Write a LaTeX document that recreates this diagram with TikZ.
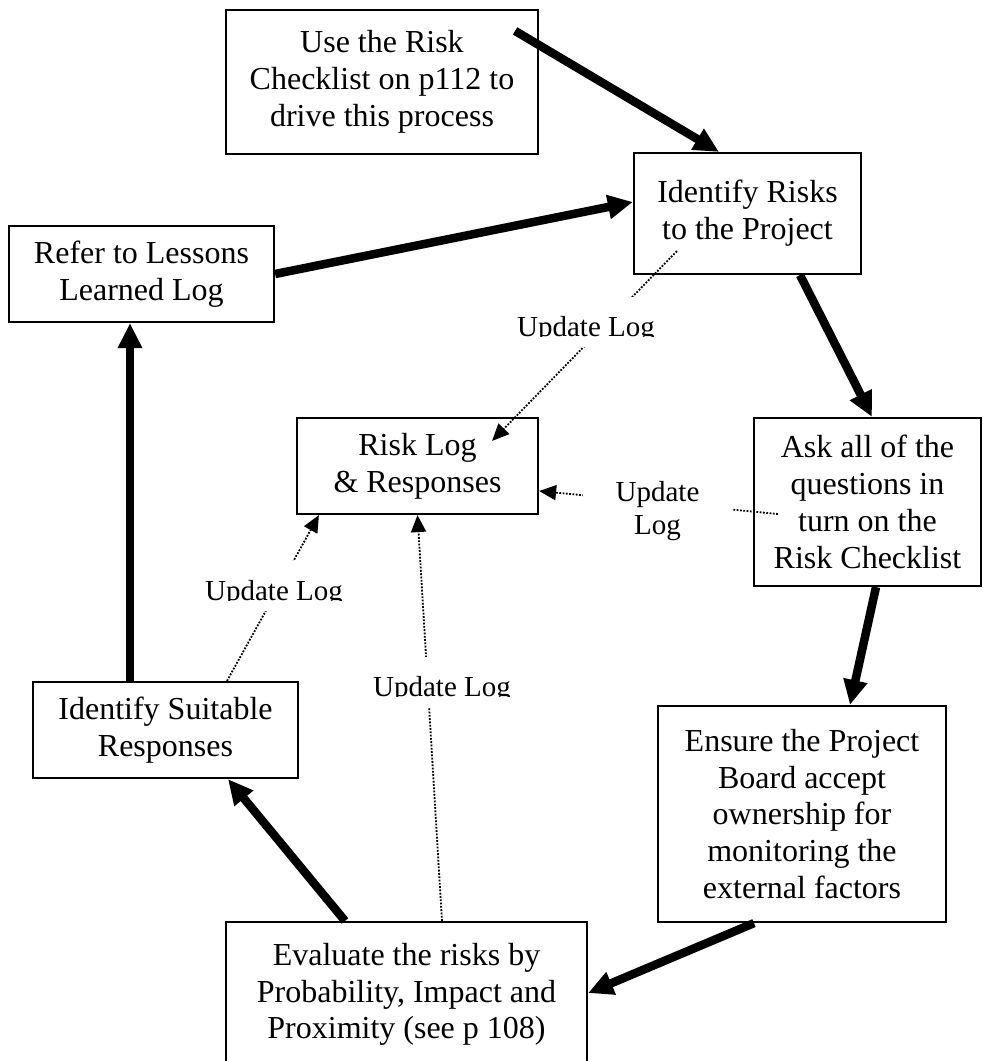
\documentclass[tikz,border=0pt]{standalone}
\usepackage{fontspec}
\setmainfont{Liberation Serif}
\usetikzlibrary{arrows.meta,calc}
\begin{document}
\begin{tikzpicture}[x=1pt,y=-1pt,
  box/.style={draw, line width=2.2pt, fill=white, rectangle, inner sep=0pt,
    align=center, font=\fontsize{32}{36.8}\selectfont},
  flow/.style={line width=8.5pt, -{Triangle[length=25pt,width=23pt]}},
  upd/.style={line width=1.8pt, dash pattern=on 1.8pt off 1.5pt,
    -{Triangle[length=17pt,width=15pt]}},
  lbl/.style={fill=white, inner sep=0pt, text height=39pt, text depth=11pt,
    font=\fontsize{29}{33}\selectfont},
]
\useasboundingbox (0,0) rectangle (983,1061);
\clip (0,0) rectangle (983,1061);
\fill[white] (0,0) rectangle (983,1061);

% process steps
\node[box, minimum width=312pt, minimum height=144pt] (b1) at (382,82)
  {Use the Risk\\Checklist on p112 to\\drive this process};
\node[box, minimum width=227pt, minimum height=121pt] (b2) at (747.5,213.5)
  {Identify Risks\\to the Project};
\node[box, minimum width=265pt, minimum height=96pt] (b3) at (141.5,274)
  {Refer to Lessons\\Learned Log};
\node[box, minimum width=241pt, minimum height=96pt] (b4) at (417.5,466)
  {Risk Log\\\& Responses};
\node[box, minimum width=227pt, minimum height=168pt] (b5) at (867.5,502)
  {Ask all of the\\questions in\\turn on the\\Risk Checklist};
\node[box, minimum width=265pt, minimum height=96pt] (b6) at (165.5,730)
  {Identify Suitable\\Responses};
\node[box, minimum width=288pt, minimum height=216pt] (b7) at (802,814)
  {Ensure the Project\\Board accept\\ownership for\\monitoring the\\external factors};
\node[box, minimum width=361pt, minimum height=145pt] (b8) at (406.5,994.5)
  {Evaluate the risks by\\Probability, Impact and\\Proximity (see p 108)};

% main cycle
\draw[flow] ($(b1.north east)+(-24,22)$) -- ($(b2.north)+(-28.5,0)$);
\draw[flow] (b3.east) -- ($(b2.west)+(0,-11.5)$);
\draw[flow] ($(b2.south)+(52.5,0)$) -- ($(b5.north)+(4.5,0)$);
\draw[flow] ($(b5.south)+(8.5,0)$) -- ($(b7.north)+(48,0)$);
\draw[flow] ($(b7.south)+(-48,0)$) -- ($(b8.east)+(0,-1.5)$);
\draw[flow] ($(b8.north)+(-61.5,0)$) -- ($(b6.south)+(62.5,0)$);
\draw[flow] ($(b6.north)+(-35.5,0)$) -- ($(b3.south)+(-11.5,0)$);

% log updates
\draw[upd] ($(b2.south west)+(44,-24)$) -- ($(b4.north east)+(-47,24)$);
\draw[upd] ($(b5.west)+(25,12)$) -- ($(b4.east)+(0,25)$);
\draw[upd] ($(b6.north)+(61.5,0)$) -- ($(b4.south west)+(23,0)$);
\draw[upd] ($(b8.north)+(35.5,0)$) -- (b4.south);

\node[lbl] (l1) at (586,322) {Update Log};
\node[lbl] (l3) at (274,586) {Update Log};
\node[lbl] (l4) at (442,682) {Update Log};
\node[fill=white, inner sep=0pt, minimum width=149pt, minimum height=80pt,
  align=center, font=\fontsize{29}{33}\selectfont] (l2) at (657.5,511.5)
  {Update\\Log};

% label frames cut off the descenders
\foreach \l in {l1,l3,l4}
  \fill[white] ($(\l.south west)+(0,-10.5)$) rectangle (\l.south east);
\end{tikzpicture}
\end{document}
